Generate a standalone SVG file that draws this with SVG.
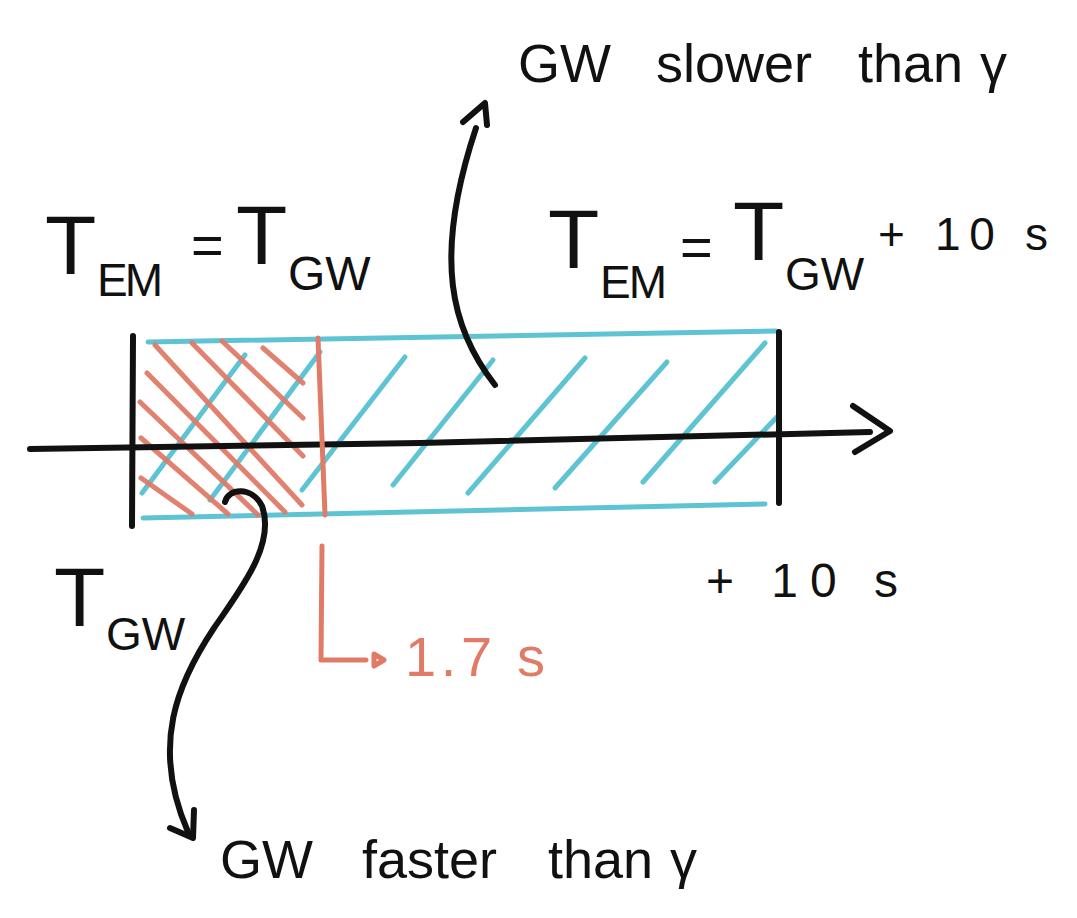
<svg xmlns="http://www.w3.org/2000/svg" width="1077" height="918" viewBox="0 0 1077 918">
<style>
.bk{stroke:#111;stroke-width:6;fill:none;stroke-linecap:round;stroke-linejoin:round}
.bl{stroke:#5ec3d3;stroke-width:5;fill:none;stroke-linecap:round}
.rd{stroke:#e07b68;stroke-width:5;fill:none;stroke-linecap:round;stroke-linejoin:round}
.t{font-family:"Liberation Sans","DejaVu Sans",sans-serif;fill:#111}
.tr{font-family:"Liberation Sans","DejaVu Sans",sans-serif;fill:#e07b68}
</style>
<rect width="1077" height="918" fill="#fff"/>
<g id="interval-box">
  <path class="bl" d="M148,342 L776,331"/>
  <path class="bl" d="M143,518 L765,504"/>
  <g id="hatch-blue">
    <path class="bl" d="M245,355 L142,493"/>
    <path class="bl" d="M320,352 L210,500"/>
    <path class="bl" d="M405,357 L302,490"/>
    <path class="bl" d="M493,360 L393,485"/>
    <path class="bl" d="M585,358 L468,493"/>
    <path class="bl" d="M667,362 L555,488"/>
    <path class="bl" d="M765,343 L643,482"/>
    <path class="bl" d="M777,417 L715,482"/>
  </g>
  <g id="hatch-red" opacity="0.95">
    <path class="rd" d="M263,348 L303,383"/>
    <path class="rd" d="M222,341 L303,418"/>
    <path class="rd" d="M192,343 L303,456"/>
    <path class="rd" d="M155,345 L302,505"/>
    <path class="rd" d="M147,373 L285,512"/>
    <path class="rd" d="M140,402 L258,515"/>
    <path class="rd" d="M141,438 L228,514"/>
    <path class="rd" d="M141,478 L192,514"/>
  </g>
</g>
<g id="axis">
  <path class="bk" d="M30,449 L420,443 L870,432"/>
  <path class="bk" stroke-width="7" d="M853,406 L890,431 L855,452"/>
  <path class="bk" d="M133,336 L132,526"/>
  <path class="bk" d="M779,332 L779,503"/>
</g>
<g id="marker-1-7s">
  <path class="rd" stroke-width="6" d="M318,338 L325,515"/>
  <path class="rd" d="M322,546 L321,660 L366,660"/>
  <path class="rd" stroke-width="4" d="M374,654 L384,660 L374,666 Z"/>
  <text class="tr" x="405" y="676" font-size="56" textLength="140" lengthAdjust="spacing">1.7 s</text>
</g>
<g id="label-eq-left">
  <text class="t" font-size="84"><tspan x="45" y="274">T</tspan><tspan x="97" y="296" font-size="46" letter-spacing="-3">EM</tspan><tspan x="191" y="264" font-size="56">=</tspan><tspan x="236" y="264">T</tspan><tspan x="288" y="290" font-size="48">GW</tspan></text>
</g>
<g id="label-eq-right">
  <text class="t" font-size="84"><tspan x="548" y="268">T</tspan><tspan x="600" y="298" font-size="46" letter-spacing="-2">EM</tspan><tspan x="680" y="266" font-size="56">=</tspan><tspan x="733" y="260">T</tspan><tspan x="785" y="290" font-size="46">GW</tspan></text>
  <text class="t" x="878" y="250" font-size="46" textLength="170" lengthAdjust="spacing">+ 10 s</text>
</g>
<g id="label-tgw">
  <text class="t" font-size="84"><tspan x="54" y="626">T</tspan><tspan x="106" y="650" font-size="46">GW</tspan></text>
</g>
<g id="label-plus10">
  <text class="t" x="706" y="597" font-size="48" textLength="192" lengthAdjust="spacing">+ 10 s</text>
</g>
<g id="label-slower">
  <text class="t" y="82" font-size="54"><tspan x="518">GW</tspan><tspan x="656">slower</tspan><tspan x="858">than</tspan><tspan x="980">γ</tspan></text>
</g>
<g id="label-faster">
  <text class="t" y="878" font-size="54"><tspan x="220">GW</tspan><tspan x="362">faster</tspan><tspan x="548">than</tspan><tspan x="670">γ</tspan></text>
</g>
<g id="connectors">
  <path class="bk" stroke-width="5" d="M495,385 C452,330 432,260 476,128"/>
  <path class="bk" stroke-width="5" d="M463,122 L485,103 L487,125"/>
  <path class="bk" stroke-width="4" d="M225,502 C228,488 252,486 262,506 C276,545 240,590 214,628 C178,682 150,745 188,832"/>
  <path class="bk" stroke-width="4" d="M170,828 L193,838 L194,810"/>
</g>
</svg>
